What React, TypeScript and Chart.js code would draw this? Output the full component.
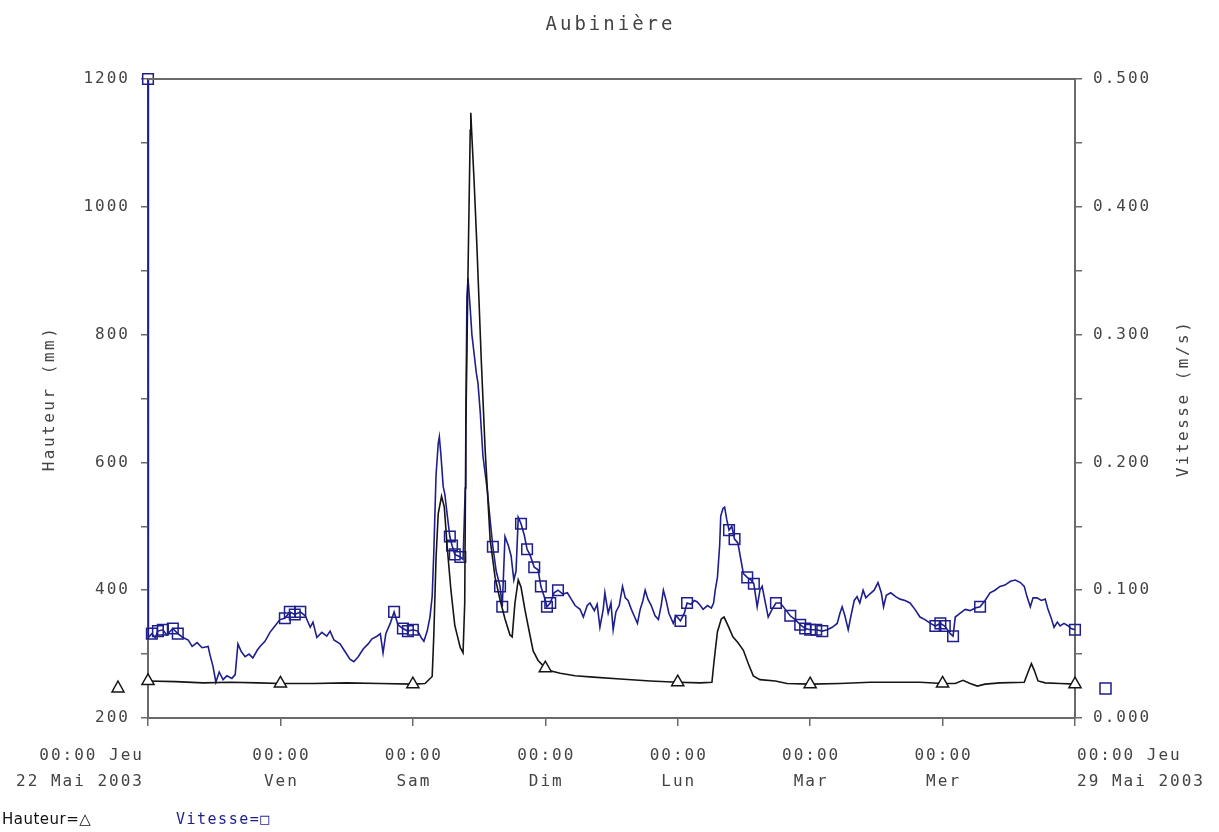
import { useEffect, useRef } from 'react';
import { Chart, registerables } from 'chart.js';

Chart.register(...registerables);

// Hauteur (mm) against hours elapsed since 00:00 Thursday 22 May 2003
const hauteurHours = [
  0, 5, 10, 15, 20, 24, 30, 36, 42, 48,
  50.2, 51.5, 51.8, 52.2, 52.6, 53.2, 53.7, 54.2, 54.9, 55.6,
  56.6, 57.1, 57.4, 57.6, 58.0, 58.4, 58.5, 58.7, 59.1, 59.6,
  60.0, 60.4, 61.1, 62.0, 62.9, 63.8, 64.7, 65.6, 66.0, 66.5,
  67.1, 67.6, 68.3, 69.1, 69.8, 70.7, 71.6, 72, 72.9, 74.7,
  77.4, 80.7, 85.6, 91.0, 96, 100.1, 102.2, 102.6, 103.2, 103.9,
  104.4, 105.1, 106.0, 106.9, 107.9, 108.8, 109.7, 110.9, 113.7, 115.8,
  120, 125.4, 130.9, 136.3, 139.9, 144, 146.3, 147.7, 149.0, 150.3,
  151.7, 154.4, 158.8, 159.5, 160.1, 160.6, 161.3, 162.6, 165.3, 168,
];
const hauteurValues = [
  258, 257, 255, 256, 255, 254, 254, 255, 254, 253,
  254, 265, 330, 450, 520, 547, 530, 470, 400, 345,
  310, 302, 380, 650, 900, 1120, 1147, 1110, 1040, 940,
  850, 760, 620, 480, 420, 385, 355, 330, 327, 380,
  416, 405, 370, 335, 305, 290, 282, 278, 274, 270,
  266, 264, 261, 258, 256, 255, 256, 290, 335, 355,
  358, 345, 327, 318, 306, 285, 266, 260, 258, 254,
  253, 254, 256, 256, 256, 254, 254, 259, 254, 250,
  253, 255, 256, 272, 285, 275, 258, 255, 254, 253,
];

// Vitesse (m/s) against the same hour axis
const vitesseHours = [
  0, 0.05, 0.1, 0.7, 1.3, 1.8, 2.7, 3.4, 4.5, 5.4,
  6.3, 7.3, 8.0, 8.9, 9.8, 10.9, 11.2, 11.8, 12.3, 12.9,
  13.6, 14.3, 15.2, 15.8, 16.3, 16.9, 17.6, 18.3, 19.0, 19.8,
  20.3, 21.2, 22.1, 23.0, 23.9, 24.8, 25.7, 26.6, 27.6, 28.5,
  29.4, 29.9, 30.6, 31.5, 32.4, 33.0, 33.7, 34.8, 35.7, 36.6,
  37.3, 38.1, 39.0, 39.9, 40.6, 41.5, 42.1, 42.6, 43.1, 43.9,
  44.6, 45.3, 46.2, 47.1, 48.0, 48.9, 49.5, 50.0, 50.6, 51.1,
  51.5, 51.8, 52.2, 52.6, 52.8, 53.1, 53.5, 53.8, 54.2, 54.7,
  55.1, 55.6, 56.6, 57.1, 57.5, 57.6, 57.8, 58.0, 58.4, 58.7,
  59.1, 59.5, 59.8, 60.2, 60.7, 61.5, 62.0, 62.5, 63.1, 63.8,
  64.2, 64.7, 65.3, 65.8, 66.3, 66.7, 67.1, 67.6, 68.2, 68.7,
  69.2, 70.0, 70.7, 71.2, 71.8, 72.3, 72.9, 73.6, 74.3, 75.2,
  76.0, 76.7, 77.4, 78.3, 78.9, 79.6, 80.1, 80.9, 81.4, 81.9,
  82.5, 82.8, 83.4, 83.9, 84.3, 84.8, 85.4, 86.0, 86.5, 87.0,
  87.6, 88.1, 88.7, 89.2, 89.7, 90.1, 90.6, 91.2, 91.9, 92.5,
  93.0, 93.4, 93.9, 94.4, 95.2, 95.7, 96.5, 97.2, 97.7, 98.4,
  99.0, 99.5, 100.1, 100.6, 101.4, 102.1, 102.5, 102.8, 103.2, 103.6,
  103.8, 104.2, 104.5, 104.9, 105.3, 105.8, 106.3, 106.9, 107.4, 107.9,
  108.6, 109.3, 109.8, 110.4, 110.9, 111.3, 111.8, 112.4, 113.1, 113.8,
  114.6, 115.5, 116.4, 117.3, 118.2, 119.1, 120.0, 121.1, 122.2, 123.1,
  124.0, 124.9, 125.4, 125.8, 126.3, 126.9, 127.4, 128.0, 128.5, 129.0,
  129.6, 130.1, 130.8, 131.6, 132.3, 132.9, 133.3, 133.8, 134.6, 135.5,
  136.3, 137.2, 138.1, 139.0, 139.9, 140.8, 141.8, 142.7, 143.6, 144.4,
  145.4, 145.9, 146.3, 147.2, 148.1, 149.0, 149.9, 150.8, 151.7, 152.6,
  153.5, 154.4, 155.3, 156.3, 157.2, 158.1, 158.8, 159.3, 159.9, 160.4,
  161.1, 161.9, 162.6, 163.1, 163.7, 164.2, 164.8, 165.3, 166.0, 166.8,
  167.3, 168.0,
];
const vitesseValues = [
  0.5, 0.284, 0.063, 0.066, 0.063, 0.068, 0.069, 0.065, 0.07, 0.066,
  0.063, 0.061, 0.056, 0.059, 0.055, 0.056, 0.05, 0.04, 0.028, 0.036,
  0.03, 0.033, 0.031, 0.034, 0.058, 0.052, 0.048, 0.05, 0.047, 0.053,
  0.056, 0.06, 0.067, 0.072, 0.077, 0.078, 0.083, 0.081, 0.083, 0.08,
  0.071, 0.075, 0.063, 0.067, 0.064, 0.068, 0.061, 0.058, 0.052, 0.046,
  0.044, 0.048, 0.054, 0.058, 0.062, 0.064, 0.066, 0.051, 0.066, 0.074,
  0.083, 0.073, 0.07, 0.068, 0.069, 0.068, 0.063, 0.06, 0.068, 0.079,
  0.095, 0.13, 0.19, 0.215, 0.22, 0.205, 0.181, 0.175, 0.16, 0.142,
  0.135, 0.128, 0.126, 0.124, 0.18, 0.23, 0.33, 0.344, 0.32, 0.3,
  0.285, 0.27, 0.262, 0.24, 0.205, 0.178, 0.155, 0.134, 0.115, 0.103,
  0.087, 0.142, 0.135, 0.127, 0.108, 0.115, 0.157, 0.152, 0.143, 0.132,
  0.128, 0.118, 0.116, 0.103, 0.095, 0.087, 0.09, 0.098, 0.1, 0.097,
  0.098, 0.093, 0.088, 0.085, 0.079, 0.088, 0.09, 0.084, 0.089, 0.071,
  0.085, 0.098, 0.082, 0.09, 0.069, 0.083, 0.088, 0.103, 0.094, 0.092,
  0.085, 0.08, 0.074, 0.085, 0.092, 0.1, 0.093, 0.088, 0.08, 0.077,
  0.088, 0.1, 0.092, 0.082, 0.074, 0.08, 0.076, 0.082, 0.09, 0.089,
  0.092, 0.091, 0.088, 0.085, 0.088, 0.086, 0.09, 0.1, 0.11, 0.135,
  0.158, 0.164, 0.165, 0.155, 0.147, 0.15, 0.14, 0.137, 0.125, 0.113,
  0.11, 0.108, 0.105, 0.087, 0.1, 0.103, 0.092, 0.079, 0.085, 0.09,
  0.09, 0.085, 0.08, 0.077, 0.073, 0.07, 0.069, 0.069, 0.068, 0.069,
  0.071, 0.074, 0.082, 0.087, 0.08, 0.069, 0.08, 0.092, 0.095, 0.09,
  0.1, 0.094, 0.097, 0.1, 0.106, 0.098, 0.087, 0.096, 0.098, 0.095,
  0.093, 0.092, 0.09, 0.085, 0.079, 0.077, 0.074, 0.072, 0.074, 0.072,
  0.066, 0.064, 0.079, 0.082, 0.085, 0.084, 0.086, 0.087, 0.092, 0.098,
  0.1, 0.103, 0.104, 0.107, 0.108, 0.106, 0.103, 0.095, 0.087, 0.094,
  0.094, 0.092, 0.093, 0.085, 0.078, 0.071, 0.075, 0.072, 0.074, 0.072,
  0.07, 0.069,
];

// readings that carry a square symbol on the Vitesse trace
const vitesseMarkerHours = [
  0, 0.7, 1.8, 2.7, 4.5, 5.4, 24.8, 25.7, 26.6, 27.6, 44.6, 46.2, 47.1, 48.0,
  54.7, 55.1, 55.6, 56.6, 62.5, 63.8, 64.2, 67.6, 68.7, 70.0, 71.2, 72.3,
  72.9, 74.3, 96.5, 97.7, 105.3, 106.3, 108.6, 109.8, 113.8, 116.4, 118.2,
  119.1, 120.0, 121.1, 122.2, 142.7, 143.6, 144.4, 145.9, 150.8, 168.0,
];

// day boundaries on the time axis and their two-line labels
const dayTicks = [0, 24, 48, 72, 96, 120, 144, 168];
const dayTimeLabels = ['00:00 Jeu', '00:00', '00:00', '00:00', '00:00', '00:00', '00:00', '00:00 Jeu'];
const dayNameLabels = ['22 Mai 2003', 'Ven', 'Sam', 'Dim', 'Lun', 'Mar', 'Mer', '29 Mai 2003'];

const chartTitle = 'Aubinière';
const hauteurLabel = 'Hauteur (mm)';
const vitesseLabel = 'Vitesse (m/s)';

const MONO = '"DejaVu Sans Mono", monospace';
const TEXT = '#444444';
const AXIS = '#6a6a6a';
const BLUE = '#1e1e8c';
const BLACK = '#151515';

const decorPlugin = {
  id: 'decor',
  beforeDraw(chart: any) {
    chart.ctx.letterSpacing = '2px';
  },
  afterDraw(chart: any) {
    const { ctx, chartArea, scales } = chart;
    const { left, right, top, bottom } = chartArea;
    ctx.save();

    // frame line along the top of the plot
    ctx.strokeStyle = AXIS;
    ctx.lineWidth = 2;
    ctx.beginPath();
    ctx.moveTo(left, top);
    ctx.lineTo(right, top);
    ctx.stroke();

    // title
    ctx.letterSpacing = '3px';
    ctx.fillStyle = TEXT;
    ctx.font = `19px ${MONO}`;
    ctx.textAlign = 'center';
    ctx.textBaseline = 'middle';
    ctx.fillText(chartTitle, chart.width / 2 + 1, 25);

    // time axis labels
    ctx.letterSpacing = '2px';
    ctx.font = `16px ${MONO}`;
    const x = scales.x;
    dayTicks.forEach((h, i) => {
      const px = x.getPixelForValue(h);
      let align: CanvasTextAlign = 'center';
      let tx = px + 1;
      if (i === 0) {
        align = 'right';
        tx = px - 4;
      } else if (i === dayTicks.length - 1) {
        align = 'left';
        tx = px + 2;
      }
      ctx.textAlign = align;
      ctx.fillText(dayTimeLabels[i], tx, bottom + 38);
      ctx.fillText(dayNameLabels[i], tx, bottom + 64);
    });

    // rotated axis titles, both reading bottom to top
    const midY = (top + bottom) / 2;
    ctx.font = `16px ${MONO}`;
    ctx.textAlign = 'center';
    ctx.letterSpacing = '2.5px';
    [[50, hauteurLabel], [1184, vitesseLabel]].forEach(([cx, label]) => {
      ctx.save();
      ctx.translate(cx as number, midY);
      ctx.rotate(-Math.PI / 2);
      ctx.fillText(label as string, 0, 0);
      ctx.restore();
    });

    // symbols beside the axes
    const sy = bottom - 30;
    const tx0 = left - 30;
    ctx.lineWidth = 1.5;
    ctx.strokeStyle = BLACK;
    ctx.fillStyle = '#ffffff';
    ctx.beginPath();
    ctx.moveTo(tx0, sy - 7);
    ctx.lineTo(tx0 + 6, sy + 4);
    ctx.lineTo(tx0 - 6, sy + 4);
    ctx.closePath();
    ctx.fill();
    ctx.stroke();
    ctx.strokeStyle = BLUE;
    ctx.strokeRect(right + 25, sy - 5, 11, 11);

    // legend line
    ctx.letterSpacing = '0.5px';
    ctx.textAlign = 'left';
    ctx.textBaseline = 'middle';
    ctx.fillStyle = '#111111';
    ctx.font = `15px "DejaVu Sans", sans-serif`;
    ctx.fillText('Hauteur=△', 2, 820);
    ctx.letterSpacing = '1.5px';
    ctx.fillStyle = BLUE;
    ctx.font = `15px ${MONO}`;
    ctx.fillText('Vitesse=□', 176, 820);

    ctx.restore();
  },
};

export default function App() {
  const canvasRef = useRef<HTMLCanvasElement | null>(null);

  useEffect(() => {
    document.body.style.margin = '0';
    const canvas = canvasRef.current;
    if (!canvas) return;

    const hauteurData = hauteurHours.map((h, i) => ({ x: h, y: hauteurValues[i] }));
    const vitesseData = vitesseHours.map((h, i) => ({ x: h, y: vitesseValues[i] }));

    const tickFont = { family: MONO, size: 16 };

    const chart = new Chart(canvas, {
      type: 'line',
      data: {
        datasets: [
          {
            label: 'Hauteur',
            data: hauteurData,
            yAxisID: 'y',
            borderColor: BLACK,
            borderWidth: 1.6,
            tension: 0,
            clip: false,
            pointStyle: 'triangle',
            pointRadius: (c: any) => (dayTicks.includes(c.raw?.x) ? 7 : 0),
            pointBackgroundColor: '#ffffff',
            pointBorderColor: BLACK,
            pointBorderWidth: 1.5,
          },
          {
            label: 'Vitesse',
            data: vitesseData,
            yAxisID: 'y1',
            borderColor: BLUE,
            borderWidth: 1.6,
            tension: 0,
            clip: false,
            pointStyle: 'rect',
            pointRadius: (c: any) => (vitesseMarkerHours.includes(c.raw?.x) ? 7.5 : 0),
            pointBackgroundColor: 'rgba(255,255,255,0)',
            pointBorderColor: BLUE,
            pointBorderWidth: 1.5,
          },
        ],
      },
      options: {
        animation: false,
        responsive: false,
        devicePixelRatio: 1,
        layout: { padding: { top: 79, left: 0, right: 0, bottom: 0 } },
        plugins: {
          legend: { display: false },
          title: { display: false },
          tooltip: { enabled: false },
        },
        scales: {
          x: {
            type: 'linear',
            min: 0,
            max: 168,
            ticks: { stepSize: 24, display: false },
            grid: {
              drawOnChartArea: false,
              drawTicks: true,
              tickLength: 8,
              color: AXIS,
              lineWidth: 1.5,
            },
            border: { display: true, color: AXIS, width: 2 },
            afterFit: (s: any) => {
              s.height = 114;
            },
          },
          y: {
            type: 'linear',
            position: 'left',
            min: 200,
            max: 1200,
            ticks: {
              stepSize: 100,
              padding: 11,
              color: TEXT,
              font: tickFont,
              callback: (v: any) => (Number(v) % 200 === 0 ? String(v) : ''),
            },
            grid: {
              drawOnChartArea: false,
              drawTicks: true,
              tickLength: 7,
              color: AXIS,
              lineWidth: 1.5,
            },
            border: { display: true, color: AXIS, width: 2 },
            afterFit: (s: any) => {
              s.width = 148;
            },
          },
          y1: {
            type: 'linear',
            position: 'right',
            min: 0,
            max: 0.5,
            ticks: {
              stepSize: 0.05,
              padding: 11,
              color: TEXT,
              font: tickFont,
              callback: (v: any) => {
                const n = Number(v);
                return Math.abs(n * 10 - Math.round(n * 10)) < 1e-6 ? n.toFixed(3) : '';
              },
            },
            grid: {
              drawOnChartArea: false,
              drawTicks: true,
              tickLength: 7,
              color: AXIS,
              lineWidth: 1.5,
            },
            border: { display: true, color: AXIS, width: 2 },
            afterFit: (s: any) => {
              s.width = 144;
            },
          },
        },
      },
      plugins: [decorPlugin],
    } as any);

    return () => chart.destroy();
  }, []);

  return (
    <div style={{ width: 1219, height: 832, background: '#ffffff' }}>
      <canvas ref={canvasRef} width={1219} height={832} style={{ display: 'block' }} />
    </div>
  );
}
